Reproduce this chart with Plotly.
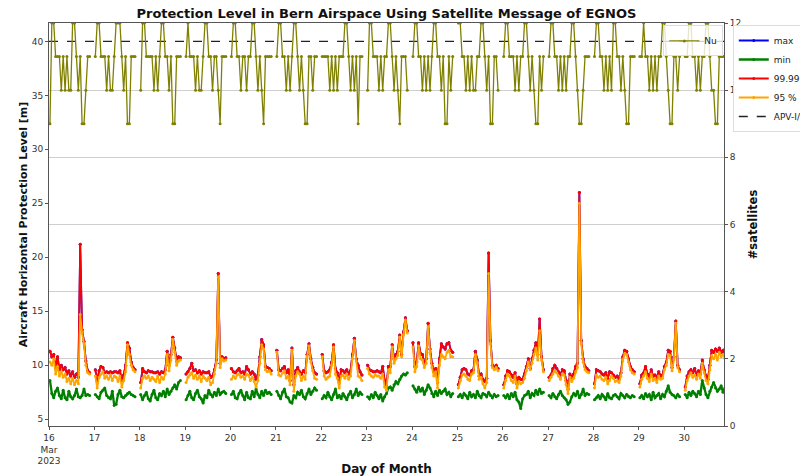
import plotly.graph_objects as go
from datetime import datetime, timedelta

# ---------------- data ----------------
DAYS = list(range(16, 31))                 # March 2023
SAMPLE_HOURS = [h + 0.5 for h in range(22)]  # hourly samples, each day

P95 = [
    [10.3, 10.0, 10.6, 9.2, 9.9, 9.0, 9.4, 8.9, 9.2, 8.5, 8.8, 8.3, 8.8, 8.2, 8.6, 8.3, 14.7, 13.0, 12.0, 10.0, 9.3, 9.2],
    [9.0, 7.9, 8.9, 9.2, 9.4, 8.8, 9.0, 8.7, 9.1, 8.6, 9.0, 8.9, 8.5, 9.0, 8.0, 8.6, 9.4, 11.9, 11.0, 10.0, 9.6, 9.4],
    [7.9, 8.8, 9.0, 8.8, 9.0, 8.6, 8.9, 8.7, 8.5, 9.0, 8.4, 8.9, 8.7, 9.2, 11.0, 9.5, 10.5, 12.4, 11.2, 10.0, 10.4, 10.5],
    [8.4, 8.9, 9.1, 9.3, 8.8, 9.1, 8.7, 9.0, 8.5, 9.0, 8.8, 8.6, 8.9, 8.2, 8.4, 9.2, 10.2, 18.2, 9.8, 10.6, 10.4, 10.5],
    [8.7, 9.0, 8.8, 9.1, 9.2, 8.9, 9.0, 8.7, 9.2, 9.1, 8.6, 8.9, 8.5, 8.0, 8.6, 10.2, 11.9, 11.5, 9.6, 9.4, 9.5, 9.2],
    [11.2, 9.1, 9.0, 9.3, 9.5, 8.8, 9.0, 8.2, 11.4, 7.6, 9.0, 9.4, 9.2, 8.6, 9.0, 8.7, 10.8, 11.8, 10.3, 9.5, 8.8, 8.7],
    [10.8, 9.0, 8.7, 8.9, 9.0, 10.0, 11.7, 9.2, 8.8, 7.9, 9.0, 9.1, 8.8, 9.2, 8.7, 9.0, 10.6, 12.3, 10.4, 9.0, 8.9, 8.6],
    [9.7, 9.2, 9.0, 8.9, 9.1, 9.0, 9.0, 8.8, 9.2, 8.0, 7.7, 9.6, 9.3, 11.7, 10.2, 10.6, 10.9, 12.6, 10.8, 12.8, 14.2, 13.0],
    [11.7, 9.4, 9.9, 11.8, 10.6, 10.5, 9.8, 10.2, 13.6, 11.2, 9.8, 9.0, 9.4, 7.9, 10.0, 11.0, 10.8, 10.6, 11.2, 11.4, 10.8, 10.8],
    [7.9, 8.6, 9.1, 9.2, 9.0, 8.7, 8.6, 9.2, 9.3, 11.0, 10.2, 8.7, 8.9, 8.3, 7.9, 8.4, 18.5, 12.0, 9.8, 9.6, 9.8, 9.5],
    [7.9, 8.6, 9.2, 9.0, 8.6, 8.4, 9.0, 7.9, 8.5, 8.3, 8.4, 8.8, 9.5, 10.3, 9.6, 10.2, 11.0, 11.6, 10.5, 13.2, 10.5, 9.4],
    [8.6, 8.9, 9.2, 9.5, 9.3, 9.0, 8.7, 9.2, 9.1, 8.2, 7.4, 8.9, 8.5, 8.8, 9.4, 9.8, 25.0, 12.0, 10.3, 9.6, 9.4, 9.3],
    [7.9, 9.1, 8.9, 9.0, 8.7, 8.6, 8.9, 8.3, 8.6, 9.0, 8.8, 8.5, 8.6, 8.4, 9.0, 10.5, 11.1, 11.0, 10.3, 9.6, 9.3, 9.2],
    [8.0, 8.7, 9.0, 9.4, 8.8, 8.5, 9.2, 8.6, 8.8, 8.4, 9.0, 8.7, 8.8, 9.6, 10.0, 11.0, 10.9, 9.5, 10.5, 13.9, 9.8, 9.4],
    [7.7, 8.6, 9.0, 9.3, 8.9, 9.1, 8.7, 9.2, 8.8, 10.2, 9.3, 8.6, 8.3, 9.6, 10.9, 10.6, 11.0, 10.5, 11.2, 10.8, 11.0, 10.6],
]

P9999 = [
    [11.3, 10.8, 11.0, 9.7, 10.8, 9.6, 10.0, 9.6, 9.8, 9.2, 9.5, 9.0, 9.4, 8.9, 9.2, 8.9, 21.2, 13.3, 12.2, 10.4, 9.5, 9.3],
    [9.6, 8.5, 9.5, 9.9, 9.8, 9.3, 9.4, 9.3, 9.4, 9.3, 9.4, 9.4, 9.3, 9.5, 8.6, 9.1, 10.0, 12.1, 11.6, 10.3, 9.8, 9.6],
    [8.4, 9.7, 9.4, 9.3, 9.5, 9.4, 9.4, 9.3, 9.3, 9.4, 9.2, 9.4, 9.3, 9.6, 11.3, 10.0, 11.0, 12.6, 11.6, 10.4, 10.8, 10.7],
    [9.2, 9.4, 9.7, 10.2, 9.5, 9.6, 9.3, 9.5, 9.2, 9.4, 9.3, 9.3, 9.4, 8.9, 9.0, 9.6, 10.5, 18.5, 10.2, 10.8, 10.6, 10.7],
    [9.7, 9.4, 9.3, 9.5, 9.7, 9.3, 9.4, 9.2, 9.9, 9.6, 9.2, 9.4, 9.2, 8.7, 9.1, 10.8, 12.4, 11.9, 9.9, 9.8, 9.7, 9.5],
    [11.4, 9.6, 9.5, 9.7, 9.9, 9.3, 9.6, 8.6, 11.6, 8.2, 9.5, 9.8, 9.4, 9.2, 9.5, 9.3, 11.0, 12.0, 10.6, 9.8, 9.3, 9.2],
    [11.0, 9.5, 9.3, 9.4, 9.6, 10.3, 11.9, 9.7, 9.3, 8.4, 9.6, 9.5, 9.3, 9.6, 9.2, 9.5, 11.0, 12.5, 10.6, 10.0, 9.4, 9.1],
    [10.0, 9.6, 9.5, 9.4, 9.4, 9.5, 9.4, 9.3, 9.9, 8.6, 8.1, 9.9, 9.9, 11.9, 10.6, 11.0, 11.3, 12.8, 11.0, 13.1, 14.4, 13.2],
    [12.1, 9.9, 10.3, 12.1, 11.1, 11.0, 10.2, 10.6, 13.9, 11.5, 10.2, 9.4, 9.7, 8.4, 10.6, 12.0, 11.7, 11.5, 12.0, 12.1, 11.4, 11.2],
    [8.2, 8.9, 9.6, 9.7, 9.6, 9.2, 9.1, 9.5, 9.6, 11.3, 10.5, 9.0, 9.2, 8.7, 8.5, 8.8, 20.4, 12.3, 10.0, 9.7, 10.0, 9.7],
    [8.2, 9.0, 9.5, 9.4, 9.1, 8.9, 9.3, 8.3, 8.9, 8.7, 8.7, 9.2, 9.9, 10.6, 9.7, 10.6, 11.4, 12.1, 11.0, 14.3, 10.8, 9.6],
    [8.9, 9.1, 9.7, 10.0, 9.7, 9.4, 9.1, 9.6, 9.5, 8.6, 7.8, 9.2, 8.9, 9.2, 9.9, 10.2, 26.0, 12.3, 10.6, 9.9, 9.7, 9.5],
    [8.3, 9.6, 9.5, 9.4, 9.2, 9.1, 9.3, 8.8, 9.4, 9.3, 9.1, 8.9, 9.0, 8.7, 9.3, 10.8, 11.4, 11.3, 10.6, 9.9, 9.6, 9.4],
    [8.3, 9.1, 9.3, 9.9, 9.2, 8.9, 9.6, 9.0, 9.1, 8.8, 9.4, 9.0, 9.1, 9.9, 10.3, 11.4, 11.3, 9.8, 10.8, 14.1, 10.0, 9.6],
    [8.0, 9.0, 9.4, 9.6, 9.3, 9.7, 9.1, 9.5, 9.2, 10.5, 9.6, 9.0, 8.7, 10.0, 11.4, 11.2, 11.5, 11.3, 11.6, 11.2, 11.4, 11.0],
]

# the maximum coincides with the 99.99 % level (hidden beneath it)
PMAX = P9999

PMIN = [
    [8.6, 7.4, 7.0, 7.6, 7.9, 7.2, 6.9, 7.7, 7.0, 6.8, 7.6, 7.1, 6.9, 7.2, 7.8, 7.1, 7.0, 7.2, 7.8, 7.2, 7.3, 7.2],
    [7.3, 7.1, 6.9, 7.5, 7.7, 7.9, 7.2, 7.0, 6.9, 7.6, 6.3, 6.4, 7.3, 7.7, 7.1, 7.0, 7.2, 7.4, 7.5, 7.3, 7.2, 7.1],
    [7.3, 6.8, 7.2, 7.5, 6.9, 6.7, 7.3, 7.7, 7.0, 6.8, 7.4, 7.2, 7.6, 7.1, 7.8, 7.3, 7.6, 7.9, 8.2, 7.8, 8.4, 8.6],
    [6.8, 7.2, 7.6, 7.0, 6.8, 7.4, 7.7, 7.1, 6.9, 6.5, 7.2, 7.0, 7.7, 7.3, 7.1, 7.5, 7.2, 7.8, 7.3, 7.5, 7.6, 7.4],
    [7.3, 7.6, 7.0, 6.9, 7.4, 7.7, 7.2, 6.8, 7.5, 7.0, 6.9, 7.6, 7.1, 7.8, 7.3, 7.0, 7.6, 7.2, 7.7, 7.4, 7.5, 7.3],
    [7.6, 7.2, 6.9, 7.5, 7.8, 7.1, 7.0, 6.6, 6.5, 7.2, 7.0, 7.5, 7.3, 7.7, 7.1, 6.9, 7.4, 7.8, 7.3, 7.6, 7.9, 7.7],
    [6.9, 7.2, 7.0, 7.5, 7.1, 6.8, 7.3, 7.8, 7.0, 7.2, 6.9, 7.4, 7.1, 6.8, 7.3, 7.6, 7.0, 7.3, 7.8, 7.2, 7.5, 7.3],
    [7.1, 6.9, 7.3, 7.0, 7.5, 7.2, 6.9, 7.3, 6.7, 7.1, 7.4, 7.9, 8.0, 7.7, 8.2, 8.5, 8.3, 8.7, 9.0, 9.2, 9.1, 9.3],
    [8.1, 7.8, 7.5, 8.0, 7.6, 7.9, 7.3, 7.7, 8.2, 7.9, 7.4, 7.1, 7.6, 7.2, 7.7, 7.4, 7.6, 7.8, 7.3, 7.5, 7.1, 7.4],
    [7.1, 7.3, 7.0, 7.4, 7.2, 6.9, 7.5, 7.1, 7.3, 7.0, 7.6, 7.2, 7.0, 7.4, 7.3, 7.1, 7.5, 7.2, 7.0, 7.3, 7.1, 7.2],
    [7.2, 7.0, 7.3, 6.9, 7.4, 7.1, 7.5, 6.8, 6.6, 6.0, 6.9, 7.2, 7.3, 7.6, 7.0, 7.4, 7.2, 7.7, 7.3, 7.8, 7.4, 7.5],
    [7.2, 7.0, 7.4, 7.1, 6.9, 7.3, 7.6, 7.2, 7.0, 6.8, 6.4, 6.6, 7.1, 7.4, 7.2, 7.6, 7.0, 7.3, 7.8, 7.2, 7.4, 7.3],
    [6.8, 7.0, 7.2, 6.9, 7.3, 7.1, 6.8, 7.4, 7.0, 6.9, 7.2, 7.3, 7.1, 6.9, 7.4, 7.2, 7.0, 7.3, 7.1, 7.0, 7.2, 7.1],
    [7.0, 7.2, 6.9, 7.4, 7.1, 7.3, 6.8, 7.5, 7.0, 7.2, 7.4, 6.9, 7.3, 7.1, 7.6, 8.1, 7.5, 7.3, 7.2, 7.0, 7.3, 7.1],
    [7.3, 7.0, 7.5, 7.2, 7.6, 7.4, 7.1, 7.6, 7.3, 8.6, 7.9, 7.3, 7.0, 7.6, 8.0, 8.4, 7.9, 7.6, 7.8, 8.1, 7.5, 7.9],
]

NSAT = [
    [9, 12, 12, 11, 11, 11, 10, 11, 10, 11, 10, 10, 12, 12, 11, 10, 11, 9, 9, 10, 11, 11],
    [11, 12, 12, 11, 11, 11, 10, 11, 10, 10, 11, 12, 12, 12, 11, 10, 11, 9, 9, 11, 11, 11],
    [10, 12, 12, 11, 11, 11, 11, 10, 11, 10, 11, 12, 12, 11, 11, 10, 11, 9, 9, 11, 11, 11],
    [11, 12, 11, 11, 11, 10, 11, 10, 10, 11, 12, 12, 11, 11, 10, 11, 11, 10, 9, 11, 11, 11],
    [11, 12, 12, 11, 11, 10, 11, 11, 10, 11, 11, 12, 12, 11, 10, 11, 10, 9, 11, 11, 11, 11],
    [11, 12, 12, 11, 11, 10, 11, 10, 11, 12, 12, 11, 10, 11, 10, 9, 9, 11, 11, 10, 11, 11],
    [11, 11, 11, 11, 10, 11, 10, 11, 10, 11, 11, 11, 12, 12, 11, 10, 11, 10, 11, 9, 11, 11],
    [10, 12, 12, 11, 11, 11, 10, 11, 10, 11, 11, 12, 12, 11, 10, 11, 10, 9, 11, 11, 11, 10],
    [11, 12, 12, 11, 11, 10, 11, 10, 11, 10, 11, 12, 12, 11, 11, 10, 11, 9, 9, 11, 10, 11],
    [12, 12, 11, 11, 10, 11, 10, 11, 10, 10, 11, 11, 12, 12, 11, 10, 11, 9, 9, 11, 11, 10],
    [11, 12, 12, 11, 11, 11, 10, 11, 10, 11, 11, 12, 12, 11, 10, 11, 10, 9, 9, 11, 10, 11],
    [11, 12, 12, 11, 11, 10, 11, 10, 11, 10, 11, 11, 12, 12, 11, 10, 9, 9, 10, 11, 11, 11],
    [11, 12, 12, 11, 11, 10, 11, 10, 11, 10, 12, 12, 11, 11, 10, 11, 10, 9, 9, 11, 11, 11],
    [11, 11, 12, 11, 11, 10, 11, 10, 11, 10, 11, 11, 12, 12, 11, 10, 9, 9, 11, 11, 10, 11],
    [11, 11, 12, 12, 11, 11, 10, 11, 10, 11, 11, 12, 12, 11, 10, 10, 9, 9, 11, 11, 11, 11],
]

APV_LIMIT = 40
TICK_TEXT = ["16<br>Mar<br>2023"] + [str(d) for d in DAYS[1:]]

X_START = datetime(2023, 3, 16)
X_END = datetime(2023, 3, 30, 21, 0)


def build(rows):
    xs, ys = [], []
    for d, row in zip(DAYS, rows):
        base = datetime(2023, 3, d)
        for h, v in zip(SAMPLE_HOURS, row):
            xs.append(base + timedelta(hours=h))
            ys.append(v)
        xs.append(base + timedelta(hours=23))
        ys.append(None)
    return xs, ys


FONT = "DejaVu Sans"
fig = go.Figure()


def pl_trace(rows, name, color, width=1.8):
    x, y = build(rows)
    fig.add_trace(go.Scatter(
        x=x, y=y, name=name, mode="lines+markers",
        line=dict(color=color, width=width),
        marker=dict(color=color, size=3),
        connectgaps=False, legend="legend"))


pl_trace(PMAX, "max", "blue")
pl_trace(PMIN, "min", "green", 2.3)
pl_trace(P9999, "99.99 %", "red")
pl_trace(P95, "95 %", "orange")

fig.add_trace(go.Scatter(
    x=[X_START, X_END], y=[APV_LIMIT, APV_LIMIT], name="APV-I/II",
    mode="lines", line=dict(color="#222", width=1.3, dash="dash"),
    legend="legend"))

xs, ys = build(NSAT)
fig.add_trace(go.Scatter(
    x=xs, y=ys, name="Nu", yaxis="y2", mode="lines+markers",
    line=dict(color="#808000", width=1.3),
    marker=dict(color="#808000", size=3),
    connectgaps=False, legend="legend2"))

axis_common = dict(showline=True, linecolor="#555", linewidth=1,
                   ticks="outside", ticklen=3, tickcolor="#555",
                   tickfont=dict(family=FONT, size=9, color="#333"))

fig.update_layout(
    width=800, height=476,
    margin=dict(l=49, r=76, t=23, b=50, autoexpand=False),
    paper_bgcolor="white", plot_bgcolor="white",
    font=dict(family=FONT, color="#111"),
    title=dict(text="<b>Protection Level in Bern Airspace Using Satellite Message of EGNOS</b>",
               x=0.483, xanchor="center", y=1 - 13 / 476, yanchor="middle",
               font=dict(family=FONT, size=13, color="#111")),
    xaxis=dict(type="date", range=[X_START, X_END],
               tickvals=[datetime(2023, 3, d) for d in DAYS], ticktext=TICK_TEXT,
               showgrid=False, mirror=True, zeroline=False,
               title=dict(text="<b>Day of Month</b>", font=dict(family=FONT, size=12), standoff=6),
               **axis_common),
    yaxis=dict(range=[4.38, 41.7], tickvals=[5, 10, 15, 20, 25, 30, 35, 40],
               showgrid=False, zeroline=False,
               title=dict(text="<b>Aircraft Horizontal Protection Level [m]</b>",
                          font=dict(family=FONT, size=11), standoff=1),
               **axis_common),
    yaxis2=dict(range=[0, 12], tickvals=[0, 2, 4, 6, 8, 10, 12], overlaying="y", side="right",
                showgrid=True, gridcolor="#cfcfcf", gridwidth=1, zeroline=False,
                title=dict(text="<b>#satellites</b>", font=dict(family=FONT, size=11.5), standoff=8),
                **axis_common),
    legend=dict(x=1.013, y=0.995, xanchor="left", yanchor="top",
                bgcolor="white", bordercolor="#dddddd", borderwidth=1,
                itemwidth=30, font=dict(family=FONT, size=9, color="#222"),
                tracegroupgap=0),
    legend2=dict(x=0.999, y=0.994, xanchor="right", yanchor="top",
                 bgcolor="rgba(255,255,255,0.8)", bordercolor="#dddddd", borderwidth=1,
                 itemwidth=30, font=dict(family=FONT, size=9, color="#222")),
)

fig.write_html("out.html")
